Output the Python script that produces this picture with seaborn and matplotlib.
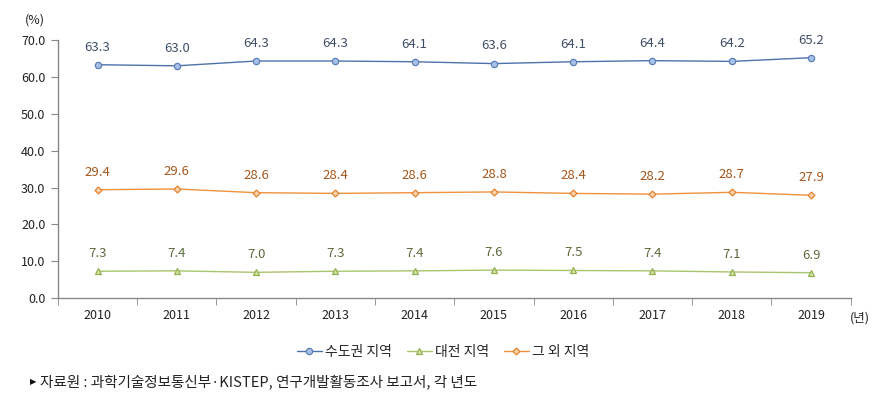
import pandas as pd
import numpy as np
import seaborn as sns
import matplotlib.pyplot as plt
from matplotlib.ticker import FixedLocator

years = ['2010', '2011', '2012', '2013', '2014', '2015', '2016', '2017', '2018', '2019']
capital = [63.3, 63.0, 64.3, 64.3, 64.1, 63.6, 64.1, 64.4, 64.2, 65.2]
daejeon = [7.3, 7.4, 7.0, 7.3, 7.4, 7.6, 7.5, 7.4, 7.1, 6.9]
others = [29.4, 29.6, 28.6, 28.4, 28.6, 28.8, 28.4, 28.2, 28.7, 27.9]
names = ['수도권 지역', '대전 지역', '그 외 지역']

sns.set_style('white')
plt.rcParams['font.family'] = ['Noto Sans CJK KR', 'DejaVu Sans']

df = pd.DataFrame({'x': np.arange(len(years)), 'cap': capital, 'dj': daejeon, 'oth': others})

fig = plt.figure(figsize=(8.77, 4.04), dpi=100)
ax = fig.add_axes([0.066, 0.262, 0.904, 0.639])

# series styles: line color, marker, marker face, marker edge, label color
styles = [
    ('cap', '#4e72a8', 'o', '#a9c1e6', '#5a7fb8', '#3f4f66', 0),
    ('dj', '#a9c46c', '^', '#d3e4a8', '#93b04f', '#5c6b3c', 1),
    ('oth', '#f0913e', 'D', '#fbd3ae', '#e6822e', '#a4561c', 2),
]
for col, lc, mk, mf, me, tc, i in styles:
    sns.lineplot(data=df, x='x', y=col, ax=ax, color=lc, marker=mk, markersize=4.5 if mk != 'D' else 3.5,
                 markerfacecolor=mf, markeredgecolor=me, markeredgewidth=0.9, linewidth=1.0, label=names[i])
    for xi, v in zip(df['x'], df[col]):
        ax.annotate(f'{v:.1f}', (xi, v), xytext=(0, 8), textcoords='offset points',
                    ha='center', va='bottom', fontsize=9.5, color=tc)

ax.set_xlim(-0.5, len(years) - 0.5)
ax.set_ylim(0, 70)
ax.set_yticks(np.arange(0, 71, 10))
ax.set_yticklabels([f'{v:.1f}' for v in np.arange(0, 71, 10)], fontsize=9, color='#222222')
ax.set_xticks(np.arange(len(years)))
ax.set_xticklabels(years, fontsize=9, color='#222222')
ax.xaxis.set_minor_locator(FixedLocator(np.arange(-0.5, len(years), 1)))
ax.tick_params(axis='x', which='major', length=0, pad=8)
ax.tick_params(axis='x', which='minor', length=5, color='#888888', direction='out', bottom=True)
ax.tick_params(axis='y', length=5, color='#888888', direction='out', left=True, pad=4)
ax.set_xlabel('')
ax.set_ylabel('')
for s in ['top', 'right']:
    ax.spines[s].set_visible(False)
for s in ['left', 'bottom']:
    ax.spines[s].set_color('#888888')
    ax.spines[s].set_linewidth(1)

handles, labels = ax.get_legend_handles_labels()
ax.get_legend().remove()
fig.legend(handles, labels, loc='center', bbox_to_anchor=(0.505, 0.128), ncol=3, frameon=False,
           fontsize=10, handlelength=1.8, columnspacing=1.1, handletextpad=0.2)

fig.text(0.04, 0.95, '(%)', fontsize=9, color='#222222', ha='center', va='center')
fig.text(0.981, 0.213, '(년)', fontsize=9, color='#222222', ha='center', va='center')
fig.text(0.034, 0.055, '▶', fontsize=6, color='#111111', ha='left', va='center', family=['DejaVu Sans'])
fig.text(0.046, 0.055, '자료원 : 과학기술정보통신부·KISTEP, 연구개발활동조사 보고서, 각 년도',
         fontsize=10.5, color='#222222', ha='left', va='center')

fig.savefig('out.png', dpi=100)
